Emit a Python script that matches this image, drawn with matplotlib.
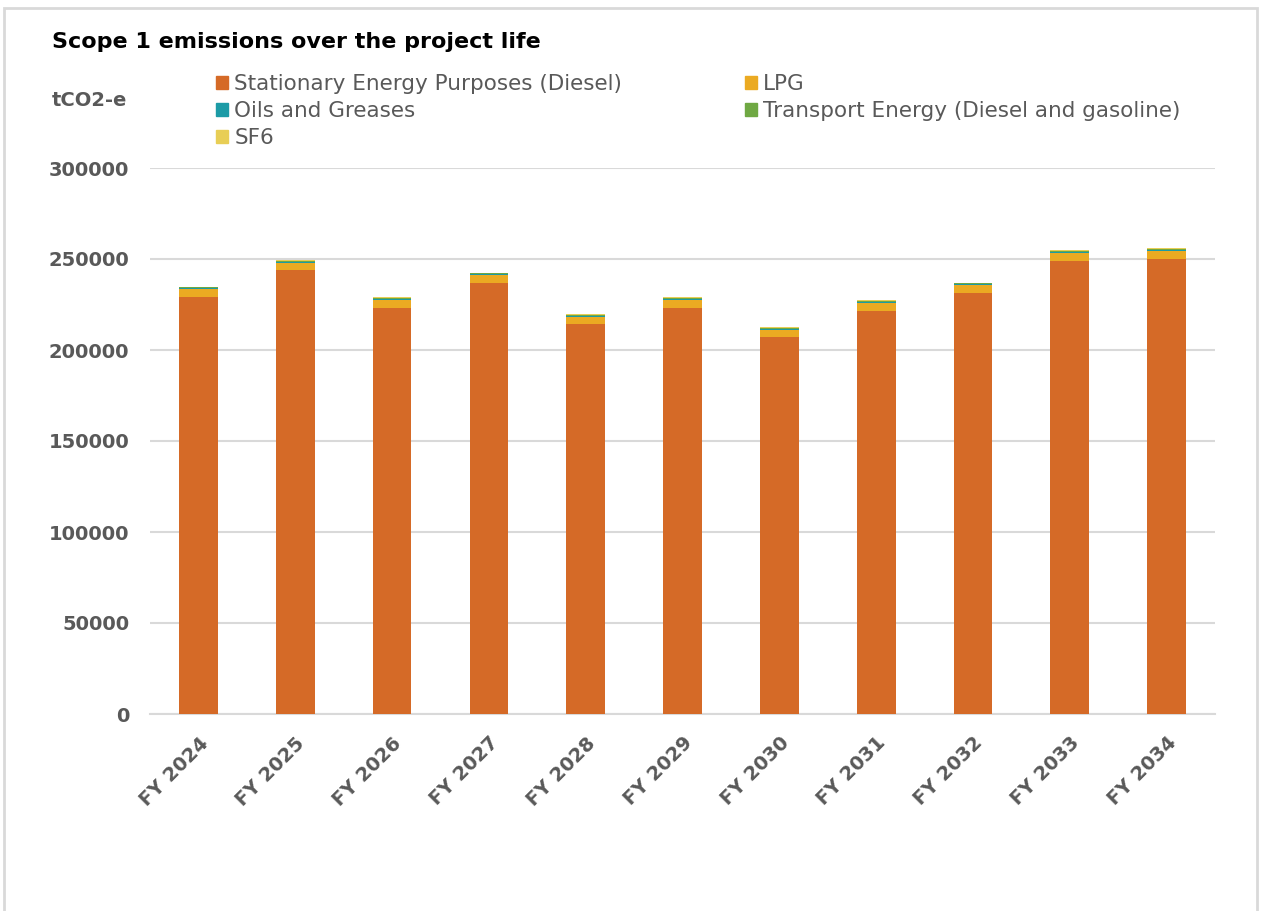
import matplotlib
matplotlib.use("Agg")
import matplotlib.pyplot as plt
from matplotlib.patches import Patch, Rectangle
import numpy as np

years = ["FY 2024", "FY 2025", "FY 2026", "FY 2027", "FY 2028", "FY 2029",
         "FY 2030", "FY 2031", "FY 2032", "FY 2033", "FY 2034"]
stationary = [229300, 244000, 223300, 237000, 214500, 223300, 207200, 221600, 231500, 249100, 250200]
lpg = [4200, 3800, 4400, 4200, 3700, 4400, 4000, 4400, 4200, 4200, 4200]
oils = [300, 300, 300, 300, 300, 300, 300, 300, 300, 300, 300]
transport = [700, 800, 700, 700, 800, 700, 800, 800, 700, 800, 800]
sf6 = [300, 300, 300, 300, 300, 300, 300, 300, 300, 300, 300]

series = [
    ("Stationary Energy Purposes (Diesel)", stationary, "#D56A27"),
    ("LPG", lpg, "#EBAA22"),
    ("Oils and Greases", oils, "#1C9BA6"),
    ("Transport Energy (Diesel and gasoline)", transport, "#6FA843"),
    ("SF6", sf6, "#E8CE55"),
]

W, H = 1264, 911
fig = plt.figure(figsize=(W / 100, H / 100), dpi=100)
gray = "#595959"

# outer frame
fig.patches.append(Rectangle((4 / W, -0.05), (1257 - 4) / W, 1.05 - 8 / H,
                             transform=fig.transFigure, fill=False,
                             edgecolor="#D9D9D9", linewidth=2))

ax = fig.add_axes([150 / W, 1 - 714 / H, (1215 - 150) / W, (714 - 168) / H])
x = np.arange(len(years))
bottom = np.zeros(len(years))
handles = {}
for name, vals, col in series:
    v = np.array(vals, dtype=float)
    ax.bar(x, v, 0.40, bottom=bottom, color=col, label=name, zorder=3)
    bottom += v
    handles[name] = Patch(color=col, label=name)

ax.set_xlim(-0.5, len(years) - 0.5)
ax.set_ylim(0, 300000)
ax.set_yticks(np.arange(0, 300001, 50000))
ax.yaxis.grid(True, color="#D9D9D9", linewidth=1.5, zorder=0)
ax.set_axisbelow(True)
for s in ["top", "right", "left"]:
    ax.spines[s].set_visible(False)
ax.spines["bottom"].set_color("#D9D9D9")
ax.spines["bottom"].set_linewidth(1.5)
ax.tick_params(axis="both", length=0)
ax.tick_params(axis="y", pad=15)
ax.set_xticks(x)
ax.set_xticklabels(years, rotation=45, ha="right", rotation_mode="anchor",
                   fontsize=14, fontweight="bold", color=gray)
for lbl in ax.get_yticklabels():
    lbl.set_fontsize(14)
    lbl.set_fontweight("bold")
    lbl.set_color(gray)
ax.tick_params(axis="x", pad=14)

fig.text(52 / W, 1 - 42 / H, "Scope 1 emissions over the project life",
         fontsize=16, fontweight="bold", color="black", va="center", ha="left")
fig.text(52 / W, 1 - 100 / H, "tCO2-e", fontsize=14, fontweight="bold",
         color=gray, va="center", ha="left")

col1 = ["Stationary Energy Purposes (Diesel)", "Oils and Greases", "SF6"]
col2 = ["LPG", "Transport Energy (Diesel and gasoline)"]
leg_kw = dict(frameon=False, fontsize=15.5, labelcolor=gray, handlelength=0.55,
              handleheight=0.55, handletextpad=0.3, labelspacing=0.32,
              borderpad=0, borderaxespad=0)
leg1 = fig.legend(handles=[handles[n] for n in col1], loc="upper left",
                  bbox_to_anchor=(216 / W, 1 - 74 / H), **leg_kw)
leg2 = fig.legend(handles=[handles[n] for n in col2], loc="upper left",
                  bbox_to_anchor=(745 / W, 1 - 74 / H), **leg_kw)

fig.savefig("out.png", dpi=100)
